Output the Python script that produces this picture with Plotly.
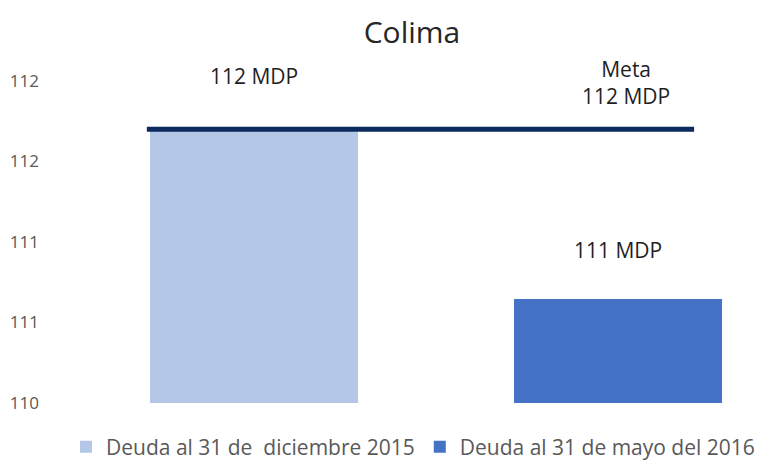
"""Colima: deuda vs meta."""

import plotly.graph_objects as go

SERIES_NAMES = ["Deuda al 31 de  diciembre 2015", "Deuda al 31 de mayo del 2016"]
SERIES_VALUES = [111.70, 110.646]
SERIES_COLORS = ["#B4C7E7", "#4472C4"]
META_VALUE = 111.70
Y_TICKS = [110, 110.5, 111, 111.5, 112]
Y_TICK_TEXT = ["110", "111", "111", "112", "112"]

FONT = "Open Sans, Segoe UI, sans-serif"
TICK_COLOR = "#595959"
LABEL_COLOR = "#1F1F1F"
BAR_WIDTH = 0.57

fig = go.Figure()
for i, (name, val, color) in enumerate(zip(SERIES_NAMES, SERIES_VALUES, SERIES_COLORS)):
    fig.add_trace(
        go.Bar(
            x=[i],
            y=[val - Y_TICKS[0]],
            base=Y_TICKS[0],
            width=BAR_WIDTH,
            name=name,
            marker={"color": color, "line": {"width": 0}},
            hovertemplate=f"{name}: %{{y:.2f}}<extra></extra>",
        )
    )

# línea de meta
fig.add_shape(
    type="line",
    xref="x",
    yref="y",
    x0=-0.294,
    x1=1.209,
    y0=META_VALUE,
    y1=META_VALUE,
    line={"color": "#0D2A5E", "width": 5},
)

label_font = {"family": FONT, "size": 21, "color": LABEL_COLOR}
fig.add_annotation(
    x=0, y=SERIES_VALUES[0], text=f"{round(SERIES_VALUES[0])} MDP",
    showarrow=False, yanchor="middle", yshift=53, font=label_font,
)
fig.add_annotation(
    x=1, y=SERIES_VALUES[1], text=f"{round(SERIES_VALUES[1])} MDP",
    showarrow=False, yanchor="middle", yshift=49, font=label_font,
)
fig.add_annotation(
    x=1.022, y=META_VALUE, text=f"Meta<br>{round(META_VALUE)} MDP",
    showarrow=False, yanchor="middle", yshift=47, font=label_font,
)

# la página añade 8 px de margen al body: la figura ocupa 768x455
fig.update_layout(
    width=768,
    height=455,
    paper_bgcolor="white",
    plot_bgcolor="white",
    margin={"l": 50, "r": 8, "t": 68, "b": 60, "autoexpand": False},
    title={
        "text": "Colima",
        "x": 0.526,
        "xanchor": "center",
        "y": 0.947,
        "yanchor": "middle",
        "font": {"family": FONT, "size": 30, "color": "#262626"},
    },
    font={"family": FONT, "color": TICK_COLOR},
    showlegend=True,
    legend={
        "orientation": "h",
        "x": 0.5,
        "xanchor": "center",
        "y": -0.1346,
        "yanchor": "middle",
        "font": {"family": FONT, "size": 21, "color": TICK_COLOR},
        "itemwidth": 30,
    },
    bargap=0,
)
fig.update_xaxes(
    range=[-0.538, 1.412],
    showticklabels=False,
    showgrid=False,
    zeroline=False,
    showline=False,
)
fig.update_yaxes(
    range=[110, 112.031],
    tickvals=Y_TICKS,
    ticktext=Y_TICK_TEXT,
    tickfont={"family": FONT, "size": 17, "color": TICK_COLOR},
    showgrid=False,
    zeroline=False,
    showline=False,
    ticklabelstandoff=18,
)

fig.write_html("out.html")
